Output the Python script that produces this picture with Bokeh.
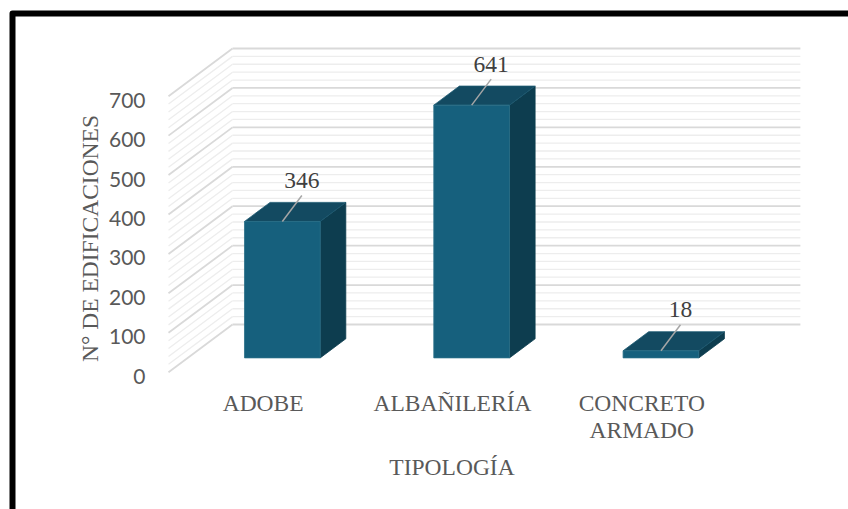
import math
from bokeh.plotting import figure
from bokeh.models import Range1d
from bokeh.core.properties import value
from bokeh.embed import file_html
from bokeh.resources import INLINE

# ---------------- data ----------------
categories = ["ADOBE", "ALBAÑILERÍA", "CONCRETO\nARMADO"]
counts = [346, 641, 18]
y_ticks = [0, 100, 200, 300, 400, 500, 600, 700]
minor_step = 20
y_title = "N° DE EDIFICACIONES"
x_title = "TIPOLOGÍA"

# ---------------- layout (pixels) ----------------
W, H = 848, 509
OX, OY = 168.0, 371.7          # front-plane origin (category 0 / value 0)
SX = 189.3                      # px per category
SY = 0.3943                     # px per value unit
DEPTH_DX, DEPTH_DY = 64.0, 47.7 # screen shift of full depth
KX = DEPTH_DX / SX              # depth shift in data units
KY = DEPTH_DY / SY

def dx(px):
    return px / SX

def dy(px):
    return px / SY

def proj(x, y, z):
    return x + z * KX, y + z * KY

def canvas(px, py):
    return (px - OX) / SX, (OY - py) / SY

p = figure(width=W, height=H, output_backend="svg", toolbar_location=None,
           x_range=Range1d(-OX / SX, (W - OX) / SX),
           y_range=Range1d(-(H - OY) / SY, OY / SY),
           x_axis_type=None, y_axis_type=None,
           min_border=0, min_border_left=0, min_border_right=0,
           min_border_top=0, min_border_bottom=0)
p.outline_line_color = None
p.background_fill_color = "white"
p.border_fill_color = "white"
p.xgrid.visible = False
p.ygrid.visible = False

ncat = len(categories)
top_val = y_ticks[-1]

# ---------------- walls ----------------
for v in range(0, top_val + 1, minor_step):
    major = v % 100 == 0
    color = "#D9D9D9" if major else "#EDEDED"
    lw = 1.8 if major else 1.3
    # back wall
    x0, y0 = proj(0, v, 1)
    x1, y1 = proj(ncat, v, 1)
    p.line([x0, x1], [y0, y1], line_color=color, line_width=lw)
    # side wall
    xa, ya = proj(0, v, 0)
    p.line([xa, x0], [ya, y0], line_color=color, line_width=lw)

# ---------------- bars ----------------
zf, zb = 0.3, 0.7
half = 0.2
front_x, front_y, side_x, side_y, top_x, top_y = [], [], [], [], [], []
for i, v in enumerate(counts):
    xl, xr = i + 0.5 - half, i + 0.5 + half
    pts = [proj(xl, 0, zf), proj(xr, 0, zf), proj(xr, v, zf), proj(xl, v, zf)]
    front_x.append([q[0] for q in pts]); front_y.append([q[1] for q in pts])
    pts = [proj(xr, 0, zf), proj(xr, 0, zb), proj(xr, v, zb), proj(xr, v, zf)]
    side_x.append([q[0] for q in pts]); side_y.append([q[1] for q in pts])
    pts = [proj(xl, v, zf), proj(xr, v, zf), proj(xr, v, zb), proj(xl, v, zb)]
    top_x.append([q[0] for q in pts]); top_y.append([q[1] for q in pts])

p.patches(side_x, side_y, fill_color="#0D3D4F", line_color="#0D3D4F", line_width=0.8)
p.patches(top_x, top_y, fill_color="#134A61", line_color="#1D5A72", line_width=0.8)
p.patches(front_x, front_y, fill_color="#16607D", line_color="#2A6E88", line_width=0.8)

# ---------------- data labels ----------------
lx0, ly0, lx1, ly1, tx, ty, tt = [], [], [], [], [], [], []
for i, v in enumerate(counts):
    sx_, sy_ = proj(i + 0.5, v, zf)
    lx0.append(sx_); ly0.append(sy_)
    lx1.append(sx_ + dx(19.5)); ly1.append(sy_ + dy(26))
    tx.append(sx_ + dx(19.5)); ty.append(sy_ + dy(41))
    tt.append(str(v))
p.segment(lx0, ly0, lx1, ly1, line_color="#A6A6A6", line_width=1.5)
p.text(tx, ty, text=tt, text_align="center", text_baseline="middle",
       text_font=value("Liberation Serif"), text_font_size="23.5px",
       text_color="#404040")

# ---------------- y tick labels ----------------
yt_x = [0 - dx(23)] * len(y_ticks)
yt_y = [v - dy(4) for v in y_ticks]
p.text(yt_x, yt_y, text=[str(v) for v in y_ticks], text_align="right",
       text_baseline="middle", text_font=value("Lato"),
       text_font_size="21px", text_color="#595959")

# ---------------- category labels ----------------
cx = [i + 0.5 for i in range(ncat)]
cy = [0 - dy(389 - OY)] * ncat
p.text(cx, cy, text=categories, text_align="center", text_baseline="top",
       text_font=value("Liberation Serif"), text_font_size="23.5px",
       text_color="#595959", text_line_height=1.05)

# ---------------- axis titles ----------------
tx_, ty_ = canvas(89, 238)
p.text([tx_], [ty_], text=[y_title], angle=math.pi / 2, text_align="center",
       text_baseline="middle", text_font=value("Liberation Serif"),
       text_font_size="23.5px", text_color="#595959")
tx_, ty_ = canvas(451.5, 466)
p.text([tx_], [ty_], text=[x_title], text_align="center",
       text_baseline="middle", text_font=value("Liberation Serif"),
       text_font_size="23.5px", text_color="#595959")

# ---------------- outer frame (top & left edges visible) ----------------
fx, fy = zip(*[canvas(W + 10, 13), canvas(12, 13), canvas(12, H + 10)])
p.line(list(fx), list(fy), line_color="black", line_width=6, line_join="round")

open("out.html", "w").write(file_html(p, INLINE))
